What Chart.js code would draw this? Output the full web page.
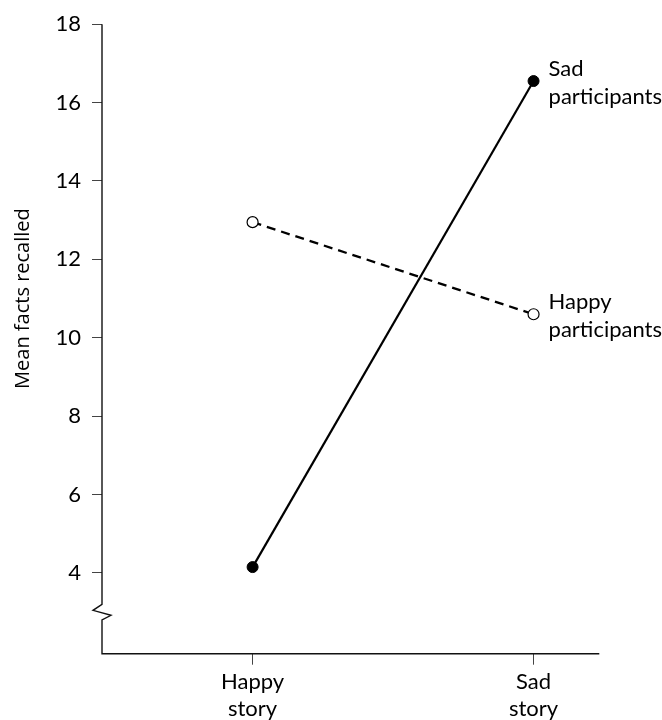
<!DOCTYPE html>
<html>
<head>
<meta charset="utf-8">
<script src="https://cdn.jsdelivr.net/npm/chart.js@4/dist/chart.umd.min.js"></script>
<style>
  html, body { margin: 0; padding: 0; background: #fff; }
  canvas { display: block; }
</style>
</head>
<body>
<canvas id="c" width="662" height="720"></canvas>
<script>
// Story types on the horizontal axis (two-line tick labels)
const storyTypes = [['Happy', 'story'], ['Sad', 'story']];
// Mean number of facts recalled, per group of participants
const sadParticipants = [4.15, 16.55];
const happyParticipants = [12.95, 10.6];
// Vertical axis tick values and texts
const yTickValues = [4, 6, 8, 10, 12, 14, 16, 18];
const seriesLabels = [['Sad', 'participants'], ['Happy', 'participants']];
const yTitle = 'Mean facts recalled';

const FONT = 'Lato, "DejaVu Sans", sans-serif';
const INK = '#000';

const toPoints = vals => vals.map((v, i) => ({ x: i, y: v }));

// Axis lines (with a break near the bottom of the y axis), series labels and y title
const decorations = {
  id: 'decorations',
  afterDraw(chart) {
    const { ctx, chartArea: a, scales: { y } } = chart;
    ctx.save();

    // axis lines with a zigzag break
    ctx.strokeStyle = '#111';
    ctx.lineWidth = 1.4;
    ctx.lineJoin = 'miter';
    const x0 = a.left;
    const bTop = y.getPixelForValue(3.2);
    const bBot = y.getPixelForValue(2.8);
    ctx.beginPath();
    ctx.moveTo(x0, a.top);
    ctx.lineTo(x0, bTop);
    ctx.lineTo(x0 - 9, bTop + 6);
    ctx.lineTo(x0 + 9, bTop + 11);
    ctx.lineTo(x0, bBot);
    ctx.lineTo(x0, a.bottom);
    ctx.lineTo(a.right, a.bottom);
    ctx.stroke();

    // series labels next to the last point of each line
    ctx.fillStyle = INK;
    ctx.font = '22px ' + FONT;
    ctx.textAlign = 'left';
    ctx.textBaseline = 'alphabetic';
    chart.data.datasets.forEach((ds, i) => {
      const meta = chart.getDatasetMeta(i);
      const last = meta.data[meta.data.length - 1];
      const lines = seriesLabels[i];
      ctx.fillText(lines[0], last.x + 15, last.y - 5);
      ctx.fillText(lines[1], last.x + 15, last.y + 23);
    });

    // rotated y axis title, centred on the tick range
    const cy = (y.getPixelForValue(yTickValues[0]) + y.getPixelForValue(yTickValues[yTickValues.length - 1])) / 2;
    ctx.font = '20px "Open Sans", ' + FONT;
    ctx.textAlign = 'center';
    ctx.translate(29, cy);
    ctx.rotate(-Math.PI / 2);
    ctx.fillText(yTitle, 0, 0);
    ctx.restore();
  }
};

new Chart(document.getElementById('c'), {
  type: 'line',
  data: {
    datasets: [
      {
        label: seriesLabels[0].join(' '),
        data: toPoints(sadParticipants),
        borderColor: INK,
        borderWidth: 2.2,
        pointRadius: 5.5,
        pointBackgroundColor: INK,
        pointBorderColor: INK,
        pointBorderWidth: 1,
        tension: 0
      },
      {
        label: seriesLabels[1].join(' '),
        data: toPoints(happyParticipants),
        borderColor: INK,
        borderWidth: 2.3,
        borderDash: [9, 6],
        pointRadius: 5.5,
        pointBackgroundColor: '#fff',
        pointBorderColor: INK,
        pointBorderWidth: 1.2,
        tension: 0
      }
    ]
  },
  options: {
    responsive: false,
    animation: false,
    devicePixelRatio: 1,
    layout: { padding: { top: 21.3, right: 62.7, left: 0, bottom: 0 } },
    plugins: { legend: { display: false }, tooltip: { enabled: false } },
    scales: {
      x: {
        type: 'linear',
        min: -0.536,
        max: 1.234,
        afterBuildTicks: s => { s.ticks = storyTypes.map((_, i) => ({ value: i })); },
        afterFit: s => { s.height = 66.3; },
        border: { display: false },
        grid: { display: true, drawOnChartArea: false, drawTicks: true, tickLength: 11, tickColor: '#444', tickWidth: 1 },
        ticks: {
          padding: 3,
          color: INK,
          font: { family: FONT, size: 22, lineHeight: 1.25 },
          maxRotation: 0,
          callback: v => storyTypes[v]
        }
      },
      y: {
        type: 'linear',
        min: 1.94,
        max: 18,
        afterBuildTicks: s => { s.ticks = yTickValues.map(v => ({ value: v })); },
        afterFit: s => { s.width = 102; },
        border: { display: false },
        grid: { display: true, drawOnChartArea: false, drawTicks: true, tickLength: 10, tickColor: '#444', tickWidth: 1 },
        ticks: {
          padding: 11,
          color: INK,
          font: { family: FONT, size: 22 },
          callback: v => String(v)
        }
      }
    }
  },
  plugins: [decorations]
});
</script>
</body>
</html>
